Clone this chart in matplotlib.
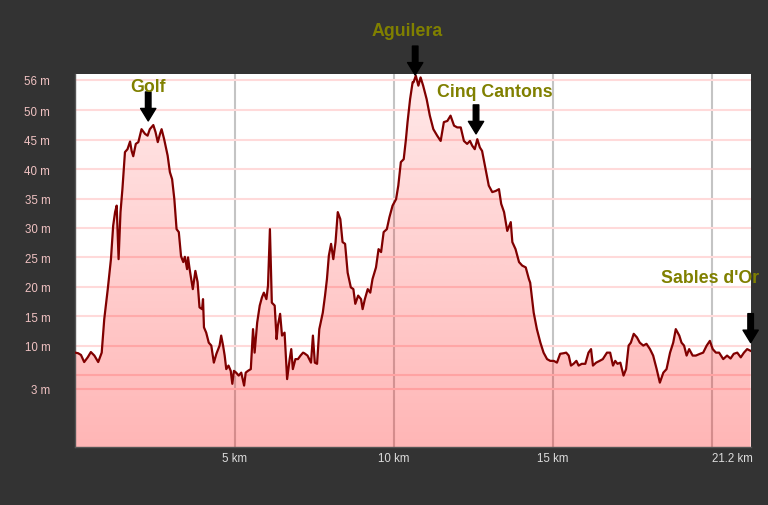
import matplotlib
matplotlib.use('Agg')
import matplotlib.pyplot as plt
import numpy as np
from matplotlib.patches import Polygon

plt.rcParams['font.family'] = ['Liberation Sans', 'DejaVu Sans']

# elevation profile: distance (km) / altitude (m)
distance_km = [
    0.00, 0.09, 0.18, 0.28, 0.39, 0.49, 0.60, 0.72, 0.83, 0.91, 1.02, 1.12, 1.19, 1.25, 1.30,
    1.36, 1.42, 1.48, 1.56, 1.64, 1.72, 1.77, 1.82, 1.90, 1.98, 2.08, 2.19, 2.27, 2.34, 2.45,
    2.52, 2.59, 2.66, 2.71, 2.79, 2.90, 2.97, 3.04, 3.11, 3.18, 3.25, 3.32, 3.39, 3.44, 3.51,
    3.54, 3.59, 3.69, 3.77, 3.84, 3.90, 3.98, 4.01, 4.04, 4.11, 4.19, 4.27, 4.35, 4.43, 4.53,
    4.58, 4.64, 4.69, 4.74, 4.81, 4.88, 4.93, 4.98, 5.05, 5.13, 5.21, 5.30, 5.35, 5.42, 5.51,
    5.58, 5.63, 5.71, 5.79, 5.86, 5.92, 6.00, 6.05, 6.11, 6.17, 6.26, 6.32, 6.36, 6.43, 6.49,
    6.57, 6.65, 6.73, 6.78, 6.83, 6.91, 6.99, 7.07, 7.15,
    7.19, 7.29, 7.40, 7.46, 7.52, 7.59, 7.66, 7.77, 7.84, 7.90, 7.96, 8.03, 8.10, 8.17, 8.24,
    8.32, 8.39, 8.47, 8.55, 8.65, 8.73, 8.79, 8.88, 8.97, 9.02, 9.09, 9.18, 9.26, 9.33, 9.44,
    9.52, 9.60, 9.68, 9.78, 9.86, 9.96, 10.07, 10.14, 10.22, 10.31, 10.38, 10.43, 10.51, 10.59,
    10.62, 10.69, 10.77, 10.84, 10.92, 11.03, 11.13, 11.24, 11.36, 11.47, 11.57, 11.68, 11.78,
    11.89, 11.99, 12.10, 12.20, 12.30, 12.39, 12.46, 12.54, 12.62, 12.70, 12.77, 12.88, 12.98,
    13.09, 13.20, 13.30, 13.37, 13.46, 13.56, 13.67, 13.72, 13.82, 13.93, 14.03, 14.14, 14.24,
    14.28, 14.39, 14.49, 14.60, 14.70, 14.81, 14.91, 15.02, 15.12, 15.22, 15.33, 15.41, 15.49,
    15.56, 15.64, 15.73, 15.80, 15.90, 16.01, 16.11, 16.19, 16.25, 16.35, 16.46, 16.56, 16.69,
    16.79, 16.88, 16.95, 17.02, 17.11, 17.21, 17.29, 17.37, 17.44, 17.53, 17.63, 17.72,
    17.83, 17.93, 18.04, 18.14, 18.25, 18.35, 18.46, 18.56, 18.67, 18.77, 18.85, 18.96, 19.03,
    19.11, 19.19, 19.27, 19.38, 19.48, 19.61, 19.71, 19.82, 19.92, 20.01, 20.11, 20.21, 20.34,
    20.46, 20.57, 20.67, 20.78, 20.89, 20.99, 21.09, 21.20,
]
altitude_m = [
    8.8, 8.7, 8.4, 7.2, 8.0, 8.9, 8.3, 7.2, 8.8, 14.5, 19.6, 24.7, 30.4, 32.7, 33.8,
    24.7, 32.7, 36.6, 42.9, 43.4, 44.7, 43.1, 42.2, 44.3, 44.6, 46.8, 46.0, 45.7, 46.8, 47.5,
    46.3, 44.6, 46.0, 46.8, 45.1, 42.3, 39.5, 38.3, 34.9, 29.8, 29.3, 25.2, 24.2, 25.1, 23.0,
    25.0, 23.0, 19.6, 22.7, 20.8, 16.5, 16.2, 17.9, 13.1, 12.2, 10.5, 10.0, 7.1, 8.6, 10.0,
    11.7, 10.0, 8.3, 6.0, 6.6, 5.7, 3.5, 5.7, 5.4, 4.9, 5.4, 3.2, 5.4, 5.7, 6.0,
    12.8, 8.8, 13.9, 16.8, 18.2, 19.0, 17.9, 20.2, 29.8, 17.3, 16.8, 11.1, 13.4, 15.4, 11.7,
    12.2, 4.3, 7.7, 9.4, 6.0, 7.7, 7.7, 8.3, 8.8,
    8.7, 8.3, 7.1, 11.7, 7.1, 6.9, 12.8, 15.6, 18.5, 21.3, 25.3, 27.3, 24.7, 27.6, 32.7,
    31.5, 27.6, 27.3, 22.4, 19.9, 19.6, 17.1, 18.5, 17.9, 16.2, 17.9, 19.6, 19.0, 21.3, 23.3,
    26.4, 25.9, 29.3, 29.8, 31.8, 33.8, 34.9, 37.2, 41.2, 41.7, 45.1, 48.0, 51.9, 54.8,
    54.8, 55.9, 54.2, 55.6, 54.2, 51.9, 49.1, 46.8, 45.7, 44.8, 48.0, 48.2, 49.1,
    47.4, 47.1, 47.1, 44.8, 44.3, 44.8, 44.0, 43.4, 45.1, 43.7, 43.1, 40.0, 37.2,
    36.1, 36.3, 36.6, 34.1, 32.7, 29.5, 31.0, 27.6, 26.4, 24.2, 23.6, 23.3, 21.3,
    20.7, 15.6, 12.8, 10.5, 8.8, 7.7, 7.4, 7.4, 7.1, 8.6, 8.7, 8.8, 8.3,
    6.6, 6.9, 7.4, 6.6, 6.9, 6.9, 8.8, 9.4, 6.6, 7.1, 7.4, 7.7, 8.8,
    8.8, 6.6, 7.4, 6.9, 7.1, 4.9, 6.0, 10.0, 10.5, 12.0, 11.4, 10.5,
    10.0, 10.3, 9.4, 8.3, 6.0, 3.7, 5.4, 6.0, 8.8, 10.5, 12.8, 11.7, 10.5,
    10.0, 8.3, 9.4, 8.3, 8.3, 8.6, 8.8, 10.0, 10.8, 9.4, 8.8, 8.8, 7.7,
    8.3, 7.8, 8.6, 8.8, 8.0, 8.8, 9.4, 9.1,
]

tick_km = [5, 10, 15, 20]
tick_km_labels = ['5 km', '10 km', '15 km', '21.2 km']
tick_m = [55.2, 50, 45, 40, 35, 30, 25, 20, 15, 10, 5, 2.7]
tick_m_labels = ['56 m', '50 m', '45 m', '40 m', '35 m', '30 m', '25 m', '20 m',
                 '15 m', '10 m', '', '3 m']

waypoints = ['Golf', 'Aguilera', 'Cinq Cantons', "Sables d'Or"]
waypoint_km = [2.29, 10.67, 12.58, 21.2]
waypoint_m = [48.2, 56.0, 46.0, 10.5]
# label offset from the arrow tip, in pixels
label_dx = [0, -8, 19, -41]
label_dy = [30, 40, 38, 61]

y_bottom, y_top = -7.3, 56.1

fig = plt.figure(figsize=(7.68, 5.06), dpi=100, facecolor='#333333')
ax = fig.add_axes([0.098, 0.114, 0.8794, 0.7368])
ax.set_facecolor('white')
ax.set_xlim(0, distance_km[-1])
ax.set_ylim(y_bottom, y_top)

# grid under the fill
ax.set_axisbelow(True)
ax.set_yticks(tick_m)
ax.set_yticklabels(tick_m_labels)
ax.set_xticks(tick_km)
ax.set_xticklabels(tick_km_labels)
ax.grid(axis='y', color='#ffdada', linewidth=1.5)
ax.grid(axis='x', color='#c4c4c4', linewidth=1.5)
ax.tick_params(axis='y', length=0, pad=18, labelsize=8.3, labelcolor='#f0c2c2')
ax.tick_params(axis='x', length=0, pad=3.5, labelsize=8.3, labelcolor='#dcdcdc')
ax.get_xticklabels()[-1].set_horizontalalignment('left')

for s in ['top', 'right']:
    ax.spines[s].set_visible(False)
for s in ['left', 'bottom']:
    ax.spines[s].set_color('#555555')
    ax.spines[s].set_linewidth(1)

# gradient fill under the profile
verts = [(distance_km[0], y_bottom)] + list(zip(distance_km, altitude_m)) + [(distance_km[-1], y_bottom)]
poly = Polygon(verts, closed=True, facecolor='none', edgecolor='none')
ax.add_patch(poly)
n = 256
grad = np.zeros((n, 1, 4))
grad[:, 0, 0] = 1.0
grad[:, 0, 3] = np.linspace(0.09, 0.29, n)
img = ax.imshow(grad, extent=[0, distance_km[-1], y_bottom, y_top], aspect='auto',
                origin='upper', zorder=1.5, interpolation='bilinear')
img.set_clip_path(poly)

ax.plot(distance_km, altitude_m, color='#800000', linewidth=1.6, zorder=3)

for name, km, m, dx, dy in zip(waypoints, waypoint_km, waypoint_m, label_dx, label_dy):
    ax.annotate('', xy=(km, m), xytext=(0, 29), textcoords='offset pixels',
                arrowprops=dict(facecolor='black', edgecolor='black', width=4,
                                headwidth=11, headlength=9, shrink=0),
                annotation_clip=False, zorder=5)
    ax.annotate(name, xy=(km, m), xytext=(dx, dy), textcoords='offset pixels',
                ha='center', va='baseline', fontsize=12.8, fontweight='bold',
                color='#808000', annotation_clip=False, zorder=6)

fig.savefig('out.png', dpi=100, facecolor=fig.get_facecolor())
